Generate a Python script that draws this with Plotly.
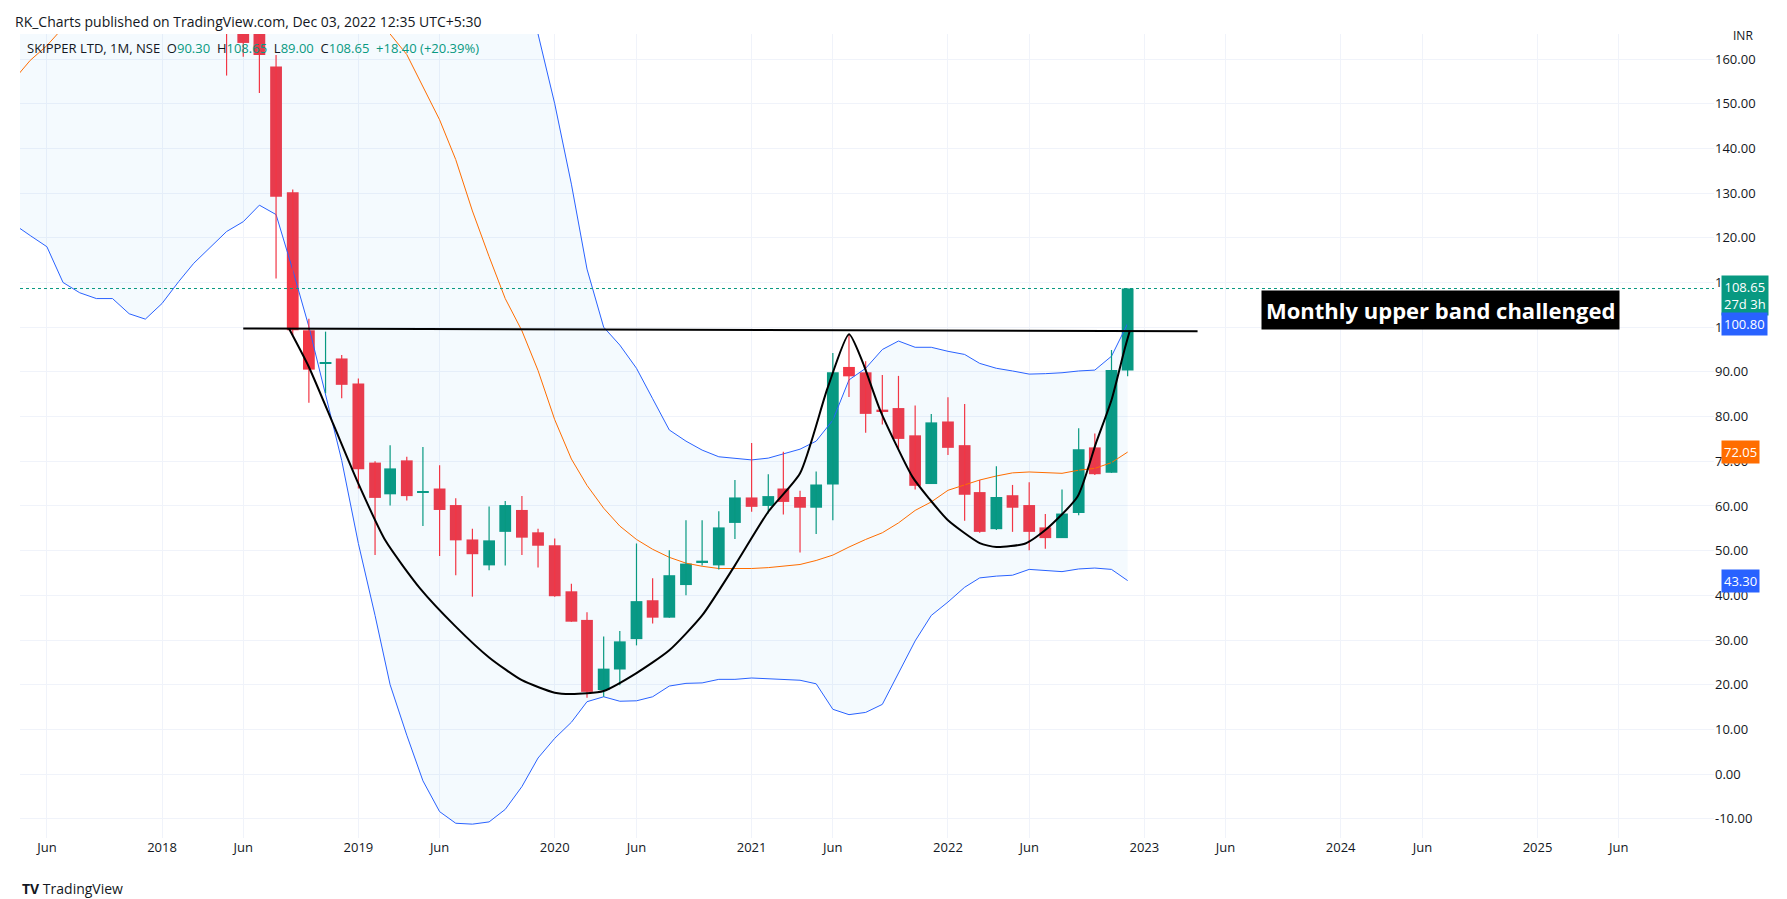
import plotly.graph_objects as go
import pandas as pd

# ---------------- data ----------------
candle_months = pd.date_range("2018-05-01", "2022-12-01", freq="MS")
opens = [190, 175, 166.5, 158.3, 130.2, 99.3, 91.8, 93.0,
         87.4, 69.7, 62.6, 70.2, 62.9, 63.9, 60.2, 52.5, 46.7, 54.2, 59.1, 54.1,
         51.2, 40.9, 34.5, 18.8, 23.4, 30.2, 38.9, 35.0, 42.3, 47.4, 46.7, 56.2,
         61.9, 60.0, 63.9, 62.0, 59.6, 64.8, 91.1, 89.9, 81.4, 81.9, 75.8, 64.9,
         78.9, 73.6, 63.1, 54.8, 62.4, 60.2, 55.2, 52.8, 58.4, 73.1, 67.4, 90.3]
highs = [200, 178, 168, 160.9, 130.8, 101.9, 99.0, 93.75,
         88.5, 70.0, 73.6, 71.0, 73.2, 69.1, 61.7, 54.9, 59.9, 61.1, 62.2, 54.9,
         52.7, 42.6, 36.2, 30.8, 32.0, 51.6, 43.8, 50.1, 56.8, 56.8, 58.8, 65.8,
         74.1, 67.1, 72.1, 63.4, 67.7, 94.2, 98.4, 92.4, 89.3, 89.1, 82.5, 80.6,
         84.3, 82.8, 65.8, 68.9, 64.7, 65.3, 58.2, 63.7, 77.4, 76.2, 94.9, 108.65]
lows = [156.3, 160.5, 152.4, 110.9, 98.2, 83.1, 85.2, 84.1,
        63.9, 49.0, 60.1, 61.2, 55.5, 48.8, 44.5, 39.7, 45.6, 46.7, 49.0, 46.2,
        39.7, 34.1, 17.1, 17.3, 19.9, 28.8, 33.7, 35.0, 40.0, 46.7, 45.8, 52.6,
        58.7, 58.3, 58.1, 49.6, 53.7, 56.8, 84.4, 76.4, 78.2, 72.5, 63.7, 64.9,
        71.4, 56.7, 54.0, 54.6, 54.2, 50.1, 50.4, 52.8, 57.9, 66.9, 67.4, 89.0]
closes = [175, 163.6, 160.9, 129.2, 99.3, 90.5, 92.2, 87.1,
          68.2, 61.8, 68.4, 62.2, 63.1, 59.1, 52.3, 49.2, 52.3, 60.2, 52.9, 51.1,
          39.8, 34.1, 18.4, 23.6, 29.7, 38.7, 35.0, 44.5, 47.1, 47.6, 55.2, 61.9,
          59.8, 62.2, 60.9, 59.6, 64.8, 89.9, 89.0, 80.6, 81.2, 75.0, 64.5, 78.7,
          73.0, 62.5, 54.2, 62.0, 59.6, 54.2, 52.8, 58.3, 72.7, 67.1, 90.4, 108.65]

band_months = pd.date_range("2017-03-01", "2022-12-01", freq="MS")
upper_band = [232, 230, 228, 226, 224, 222, 220, 218, 216, 214,
              215, 220, 225, 230, 235, 240, 245, 250, 252, 252, 250, 248,
              245, 240, 236, 232, 228, 224, 218, 210, 200, 190, 178, 165.6,
              150, 132, 113, 100, 96, 90.8, 84, 77, 74.5, 72.5, 71, 70.7,
              70.3, 70.7, 71.7, 72.7, 74.5, 79.2, 88.2, 90.8, 95.0, 96.9, 95.5, 95.5,
              94.6, 93.9, 91.9, 90.8, 90.2, 89.5, 89.6, 89.8, 90.2, 90.4, 93.5, 100.8]
basis = [151, 155.5, 159.7, 163, 167, 170, 173, 175, 177, 179,
         181, 183, 185, 187, 188, 189, 189, 187, 184, 181, 178, 175,
         172, 169, 165.6, 161, 154, 146.4, 137.5, 126, 115.8, 106.4, 99.2, 90.3,
         79.3, 70.5, 64.6, 59.5, 55.5, 52.5, 50.3, 48.5, 47.2, 46.5, 46.0, 46.0,
         46.0, 46.2, 46.5, 46.9, 47.8, 49.0, 50.8, 52.5, 54.0, 56.2, 59.0, 60.9,
         63.5, 64.8, 65.8, 66.7, 67.4, 67.6, 67.5, 67.3, 68.0, 68.4, 69.7, 72.05]
lower_band = [127, 123, 120.5, 118, 110, 107.7, 106.4, 106.4, 103, 101.8,
              105.3, 110.2, 114.3, 118, 121.4, 123.6, 127.3, 125.2, 112.8, 100.1, 85.2, 70.2,
              51.6, 35.5, 20, 8.7, -1.5, -8.4, -11, -11.2, -10.7, -7.9, -2.8, 3.6,
              8.0, 11.6, 16.2, 17.3, 16.3, 16.4, 17.3, 19.7, 20.3, 20.4, 21.2, 21.2,
              21.5, 21.3, 21.2, 21.0, 20.2, 14.5, 13.3, 13.8, 15.6, 22.7, 29.8, 35.5,
              38.5, 41.8, 43.9, 44.3, 44.5, 45.8, 45.5, 45.3, 45.9, 46.1, 45.8, 43.3]

# hand-drawn cup & handle pattern
cup_dates = ["2018-08-25", "2018-10-01", "2018-11-15", "2019-01-01", "2019-02-20", "2019-04-26",
             "2019-07-01", "2019-09-01", "2019-11-01", "2020-01-01", "2020-02-01", "2020-04-01",
             "2020-06-01", "2020-08-01", "2020-10-01", "2020-12-01", "2021-02-01", "2021-04-01",
             "2021-05-22", "2021-07-01", "2021-07-26", "2021-08-28", "2021-10-27", "2021-11-28",
             "2022-01-01", "2022-03-01", "2022-04-01", "2022-05-25", "2022-07-01", "2022-08-30",
             "2022-10-03", "2022-11-01", "2022-11-25", "2022-12-05"]
cup_prices = [99.7, 91.1, 78.4, 65.0, 52.3, 41.5, 33.0, 26.1, 21.0, 18.2, 17.9, 18.6,
              22.6, 27.7, 35.5, 46.7, 58.7, 67.3, 86.3, 98.4, 92.3, 81.4, 66.5, 61.5,
              56.8, 51.7, 50.8, 51.6, 54.6, 62.1, 74.0, 83.7, 94.9, 99.2]
neck_dates = ["2018-06-01", "2023-04-10"]
neck_prices = [99.7, 99.1]

x_tick_dates = ["2017-06-01", "2018-01-01", "2018-06-01", "2019-01-01", "2019-06-01", "2020-01-01",
                "2020-06-01", "2021-01-01", "2021-06-01", "2022-01-01", "2022-06-01", "2023-01-01",
                "2023-06-01", "2024-01-01", "2024-06-01", "2025-01-01", "2025-06-01"]
x_tick_text = ["Jun", "2018", "Jun", "2019", "Jun", "2020", "Jun", "2021", "Jun", "2022", "Jun",
               "2023", "Jun", "2024", "Jun", "2025", "Jun"]
y_ticks = list(range(-10, 170, 10))

GREEN = "#089981"
RED = "#F23645"
BLUE = "#2962FF"
ORANGE = "#FF6D00"
TXT = "#131722"

fig = go.Figure()

fig.add_trace(go.Scatter(x=band_months, y=upper_band, mode="lines",
                         line=dict(color=BLUE, width=1), hoverinfo="skip"))
fig.add_trace(go.Scatter(x=band_months, y=lower_band, mode="lines", fill="tonexty",
                         fillcolor="rgba(33,150,243,0.05)",
                         line=dict(color=BLUE, width=1), hoverinfo="skip"))
fig.add_trace(go.Scatter(x=band_months, y=basis, mode="lines",
                         line=dict(color=ORANGE, width=1), hoverinfo="skip"))

month_ms = 30.4 * 24 * 3600 * 1000
for up in (True, False):
    idx = [i for i in range(len(opens)) if (closes[i] >= opens[i]) == up]
    col = GREEN if up else RED
    wx, wy = [], []
    for i in idx:
        wx += [candle_months[i], candle_months[i], None]
        wy += [lows[i], highs[i], None]
    fig.add_trace(go.Scatter(x=wx, y=wy, mode="lines", line=dict(color=col, width=1.2),
                             hoverinfo="skip"))
    fig.add_trace(go.Bar(x=[candle_months[i] for i in idx],
                         y=[max(abs(closes[i] - opens[i]), 0.35) for i in idx],
                         base=[min(opens[i], closes[i]) for i in idx],
                         width=month_ms * 0.72, marker=dict(color=col, line=dict(width=0)),
                         hoverinfo="skip"))

fig.add_trace(go.Scatter(x=neck_dates, y=neck_prices, mode="lines",
                         line=dict(color="#000000", width=2), hoverinfo="skip"))
fig.add_trace(go.Scatter(x=cup_dates, y=cup_prices, mode="lines",
                         line=dict(color="#000000", width=2, shape="spline", smoothing=0.6),
                         hoverinfo="skip"))

fig.add_hline(y=closes[-1], line=dict(color=GREEN, width=1, dash="dot"))

fig.update_layout(
    width=1787, height=899, showlegend=False, barmode="overlay",
    plot_bgcolor="white", paper_bgcolor="white",
    margin=dict(l=12, r=81, t=26, b=69),
    font=dict(family="Open Sans", size=13, color=TXT),
    xaxis=dict(type="date", range=["2017-04-12", "2025-11-25"], tickvals=x_tick_dates,
               ticktext=x_tick_text, showgrid=True, gridcolor="#f0f3fa", zeroline=False,
               showline=False, ticks="", tickfont=dict(size=13, color=TXT)),
    yaxis=dict(side="right", range=[-14.3, 165.6], tickvals=y_ticks,
               ticktext=[f"{v:.2f}" for v in y_ticks], showgrid=True, gridcolor="#f0f3fa",
               zeroline=False, showline=False, ticks="", tickfont=dict(size=13, color=TXT)),
)

anns = [
    dict(xref="paper", yref="paper", x=-0.004, y=1.015, xanchor="left", yanchor="middle",
         text="RK_Charts published on TradingView.com, Dec 03, 2022 12:35 UTC+5:30",
         showarrow=False, font=dict(size=14, color=TXT)),
    dict(xref="paper", yref="paper", x=0.003, y=0.982, xanchor="left", yanchor="middle",
         text=("SKIPPER LTD, 1M, NSE&nbsp;&nbsp;O<span style='color:#089981'>90.30</span>"
               "&nbsp;&nbsp;H<span style='color:#089981'>108.65</span>"
               "&nbsp;&nbsp;L<span style='color:#089981'>89.00</span>"
               "&nbsp;&nbsp;C<span style='color:#089981'>108.65</span>"
               "&nbsp;&nbsp;<span style='color:#089981'>+18.40 (+20.39%)</span>"),
         showarrow=False, font=dict(size=13, color=TXT)),
    dict(xref="paper", yref="paper", x=1.01, y=0.998, xanchor="left", yanchor="middle",
         text="INR", showarrow=False, font=dict(size=12, color=TXT)),
    dict(xref="paper", yref="paper", x=0.0, y=-0.063, xanchor="left", yanchor="middle",
         text="<b>TV</b> TradingView", showarrow=False, font=dict(size=14, color=TXT)),
    dict(x="2024-07-05", y=103.8, text="<b>Monthly upper band challenged</b>", showarrow=False,
         bgcolor="#000000", font=dict(size=22, color="white", family="Open Sans"),
         borderpad=4),
]
for val, txt, col in [(107.0, "108.65<br>27d 3h", GREEN), (100.8, "100.80", BLUE),
                      (72.05, "72.05", ORANGE), (43.3, "43.30", BLUE)]:
    anns.append(dict(xref="paper", yref="y", x=1.004, y=val, xanchor="left", yanchor="middle",
                     text=txt, showarrow=False, bgcolor=col, align="center",
                     font=dict(size=13, color="white"), borderpad=2))
fig.update_layout(annotations=anns)

fig.write_html("out.html")
